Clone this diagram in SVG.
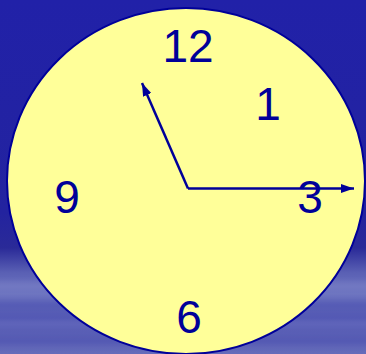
<svg xmlns="http://www.w3.org/2000/svg" width="366" height="354" viewBox="0 0 366 354">
<defs>
<linearGradient id="bg" x1="0" y1="0" x2="0" y2="1">
<stop offset="0" stop-color="#2121a8"/>
<stop offset="0.6" stop-color="#23239f"/>
<stop offset="0.7" stop-color="#2a2a98"/>
<stop offset="0.77" stop-color="#5a60b4"/>
<stop offset="0.83" stop-color="#6e75c0"/>
<stop offset="0.9" stop-color="#5055b2"/>
<stop offset="1" stop-color="#666cba"/>
</linearGradient>
<filter id="soft" x="-10%" y="-50%" width="120%" height="200%">
<feGaussianBlur stdDeviation="0 3"/>
</filter>
<marker id="arr" viewBox="0 0 13 9" refX="13" refY="4.5" markerWidth="13" markerHeight="9" markerUnits="userSpaceOnUse" orient="auto">
<path d="M0,0 L13,4.5 L0,9 z" fill="#000099"/>
</marker>
<style>
.num{font-family:"Liberation Sans",Arial,sans-serif;font-size:46px;fill:#000099;text-anchor:middle}
.hand{stroke:#000099;stroke-width:2.5;fill:none}
</style>
</defs>
<rect width="366" height="354" fill="url(#bg)"/>
<g opacity="0.4" filter="url(#soft)">
<rect x="0" y="282" width="366" height="7" fill="#8a90d0"/>
<rect x="0" y="302" width="366" height="6" fill="#3a3fa8"/>
<rect x="0" y="320" width="366" height="7" fill="#7a80c8"/>
<rect x="0" y="338" width="366" height="6" fill="#3a3fa8"/>
</g>
<g id="face">
<ellipse cx="186" cy="181" rx="179" ry="173" fill="#ffff99" stroke="#000099" stroke-width="2"/>
</g>
<g id="n12"><text class="num" x="188" y="62">12</text></g>
<g id="n1"><text class="num" x="268" y="120">1</text></g>
<g id="n9"><text class="num" x="67" y="213">9</text></g>
<g id="n3"><text class="num" x="310" y="213">3</text></g>
<g id="n6"><text class="num" x="189" y="333">6</text></g>
<g id="hands">
<line class="hand" x1="188" y1="188.5" x2="142" y2="83" marker-end="url(#arr)"/>
<line class="hand" x1="188" y1="188.5" x2="354" y2="188.5" marker-end="url(#arr)"/>
</g>
</svg>
